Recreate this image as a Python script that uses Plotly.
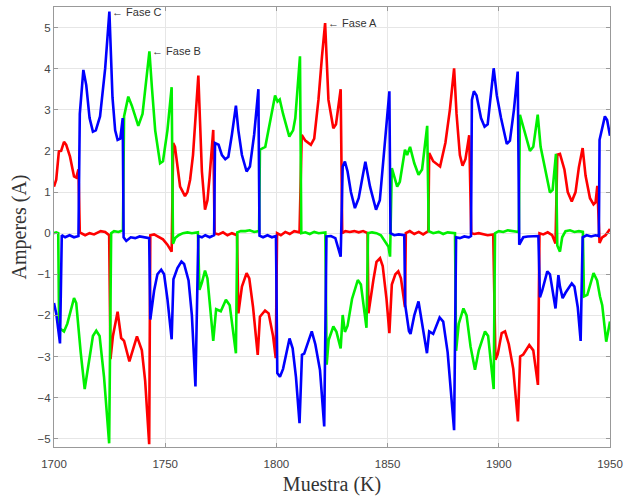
import plotly.graph_objects as go

# Fase A (red)
xa = [1700, 1701, 1702.2, 1703.2, 1704.5, 1705.5, 1707.2, 1709, 1710, 1711, 1711.6,
      1714, 1716, 1718, 1721, 1723, 1724.8,
      1725.4, 1726.5, 1728.6, 1730.2, 1731.5, 1733.9, 1737.3, 1739.5, 1741, 1742.8,
      1743.3, 1745, 1747, 1749, 1751, 1752.9,
      1753.6, 1754.4, 1756.7, 1758.9, 1760, 1761.2, 1762.5, 1764.9, 1765.6, 1766.5, 1767.9, 1769, 1770, 1771.6,
      1772.2, 1774, 1776, 1778, 1780, 1782.3,
      1782.9, 1784.5, 1786.6, 1787.8, 1789.5, 1791.6, 1792.6, 1794.9, 1796.5, 1798.5, 1799.7,
      1800.3, 1802, 1804, 1806, 1808, 1810.4,
      1811.4, 1813, 1815.5, 1817, 1818.9, 1820.5, 1821.9, 1823.4, 1825.6, 1826.8, 1828.9,
      1829.6, 1831, 1833, 1835, 1837, 1839, 1841,
      1841.4, 1843.6, 1845, 1846.6, 1847.8, 1849.5, 1850.8, 1851.9, 1853.5, 1854.8, 1856, 1857.8,
      1858.2, 1860, 1862, 1864, 1866, 1868.3,
      1868.7, 1870.5, 1873.6, 1876, 1878, 1879.9, 1881, 1882.5, 1883.7, 1885, 1886.7,
      1887.6, 1889, 1891, 1893, 1895, 1897.5,
      1898.5, 1899.5, 1901.3, 1902.8, 1904.5, 1906.5, 1908.6, 1909.6, 1911, 1913.7, 1915.5, 1917.6,
      1918.3, 1920, 1922, 1924, 1925.5,
      1926.3, 1927.5, 1929.5, 1931, 1932.8, 1934.5, 1936, 1937.7, 1939, 1941, 1942.6, 1943.5, 1944.3,
      1945.3, 1946.5, 1948, 1950]
ya = [1.13, 1.3, 1.99, 2.0, 2.22, 2.15, 1.86, 1.38, 1.35, 1.55, 0.02,
      -0.05, 0.0, -0.03, 0.05, 0.03, -0.05,
      -3.06, -2.5, -1.91, -2.55, -2.62, -3.12, -2.51, -2.85, -3.6, -5.13,
      -0.05, -0.03, -0.08, -0.15, -0.28, -0.45,
      2.19, 2.1, 1.13, 0.9, 1.0, 1.3, 1.9, 3.83, 2.8, 1.5, 0.57, 0.8, 1.4, 2.51,
      0.0, -0.03, 0.02, -0.05, 0.0, -0.05,
      -1.95, -1.3, -0.97, -1.1, -1.8, -2.96, -2.03, -1.88, -1.95, -2.5, -3.04,
      0.0, -0.05, 0.03, -0.02, 0.05, 0.02,
      2.39, 2.25, 2.15, 2.3, 3.24, 4.3, 5.11, 3.24, 2.55, 2.65, 3.5,
      0.0, 0.05, 0.03, 0.05, 0.02, 0.05, 0.0,
      -1.95, -1.14, -0.7, -0.61, -0.8, -1.6, -2.43, -1.25, -1.0, -0.93, -1.1, -1.8,
      0.0, 0.05, -0.02, 0.03, -0.03, 0.05,
      1.95, 1.75, 1.62, 2.2, 3.0, 4.01, 2.9, 1.9, 1.64, 1.8, 2.38,
      0.0, -0.02, 0.0, -0.03, -0.05, -0.03,
      -3.08, -2.95, -2.43, -2.39, -2.7, -3.3, -4.58, -3.0, -2.95, -2.72, -2.85, -3.69,
      0.0, -0.03, 0.02, -0.05, -0.25,
      1.91, 1.93, 1.55, 1.0, 0.77, 1.0, 1.6, 2.07, 1.4, 0.85, 0.7, 0.75, 1.15,
      -0.24, -0.1, -0.05, 0.1]

# Fase B (green)
xb = [1700, 1701, 1701.9,
      1702.3, 1704.5, 1706, 1709, 1710, 1712, 1713.8, 1715.5, 1717.5, 1719, 1720.5, 1722.5, 1724.8,
      1725.7, 1727, 1729, 1731,
      1731.5, 1733.4, 1735, 1737.9, 1739.8, 1741, 1742.9, 1744, 1745.5, 1747.7, 1749, 1751, 1752.9,
      1753.5, 1754.5, 1756, 1758, 1760, 1762, 1764.7,
      1765.4, 1766.5, 1767.9, 1769, 1771.6, 1772.9, 1775, 1777.3, 1779, 1781.8,
      1782.4, 1784, 1786, 1788, 1790, 1792.2,
      1792.6, 1795, 1797.5, 1799.4, 1800.5, 1801.5, 1803, 1805.8, 1807.5, 1808.5, 1810.6,
      1811.2, 1813, 1815, 1817, 1819, 1822,
      1822.6, 1823.5, 1825.6, 1827, 1828.9, 1829.8, 1830.8, 1832, 1834, 1836.6, 1838, 1840.5,
      1841.2, 1843, 1845, 1847, 1849, 1850.4, 1851.1,
      1851.9, 1854.3, 1855.5, 1857.8, 1858.8, 1860.1, 1862, 1863.9, 1865.5, 1867.8,
      1868.5, 1870.5, 1873, 1875, 1877, 1880.3,
      1880.8, 1882, 1884.1, 1885.5, 1887.3, 1889.3, 1891, 1893.8, 1895.2, 1897.7,
      1898.3, 1900, 1902, 1904, 1906, 1909,
      1909.5, 1911, 1914, 1915.5, 1917.5, 1918.8, 1920.8, 1923, 1924.2, 1925.7,
      1926.3, 1927.5, 1928.5, 1930, 1932, 1934, 1936, 1937.8,
      1938.3, 1939.8, 1942.6, 1944.2, 1945.5, 1946.5, 1948.3, 1950]
yb = [0.0, 0.02, 0.0,
      -2.3, -2.39, -2.2, -1.58, -1.7, -2.9, -3.79, -3.2, -2.5, -2.37, -2.5, -3.5, -5.11,
      0.0, 0.05, 0.03, 0.07,
      2.84, 3.32, 3.1, 2.61, 2.9, 3.5, 4.42, 3.56, 2.5, 1.7, 1.75, 2.5, 3.55,
      -0.26, -0.12, -0.05, 0.0, 0.02, 0.0, 0.02,
      -1.38, -1.2, -0.91, -1.1, -2.62, -1.85, -1.9, -1.62, -1.75, -2.92,
      0.02, 0.05, 0.05, 0.07, 0.03, 0.05,
      2.03, 2.1, 2.8, 3.35, 3.2, 3.25, 2.9, 2.35, 2.5, 2.8, 4.3,
      0.0, 0.02, -0.02, 0.03, 0.0, 0.02,
      -3.2, -2.6, -2.27, -2.4, -2.8, -1.99, -2.4, -2.25, -1.6, -1.14, -1.25, -2.3,
      0.0, 0.02, 0.0, -0.05, -0.2, -0.33, -0.57,
      1.58, 1.13, 1.25, 2.03, 1.9, 2.1, 1.7, 1.42, 1.55, 2.61,
      0.05, 0.0, 0.03, -0.02, 0.02, 0.0,
      -2.86, -2.2, -1.83, -2.0, -2.76, -3.32, -2.85, -2.39, -2.5, -3.79,
      0.0, 0.05, 0.03, 0.07, 0.05, 0.03,
      2.88, 2.6, 2.0, 2.1, 2.88, 2.1, 1.54, 0.99, 1.05, 1.93,
      -0.3, -0.45, -0.1, 0.05, 0.07, 0.03, 0.05, 0.03,
      -1.54, -1.5, -0.97, -1.15, -1.54, -1.75, -2.64, -2.15]

# Fase C (blue)
xc = [1700, 1701, 1702.7,
      1703.5, 1705, 1707, 1709, 1711,
      1711.6, 1713.2, 1714.5, 1716, 1717.5, 1718.8, 1720.7, 1723, 1724.9, 1726.3, 1727.5, 1728.6, 1729.8, 1730.9,
      1731.3, 1732.5, 1734.5, 1736.5, 1738.5, 1740.5, 1742.8,
      1743.3, 1745, 1746.5, 1748.2, 1749.5, 1751, 1752.9, 1753.7, 1755.5, 1757.3, 1758.5, 1760.5, 1762, 1763.6,
      1764.9, 1766.5, 1768, 1770, 1772,
      1772.4, 1774, 1775.5, 1777, 1778.4, 1780, 1781.8, 1782.9, 1784.5, 1786.6, 1788.1, 1790, 1791.9,
      1792.4, 1794, 1796, 1798, 1799.8,
      1800.4, 1801.6, 1803, 1805.9, 1807.3, 1808.8, 1810.4, 1811.5, 1812.5, 1815.9, 1817.5, 1819.6, 1821.5,
      1822.5, 1824.5, 1826.5, 1828.9,
      1829.8, 1830.8, 1832, 1833.5, 1835.3, 1837, 1838.5, 1840, 1842.1, 1844.8, 1846.5, 1848.5, 1850.8,
      1851.3, 1853, 1855, 1857.5,
      1857.9, 1859.6, 1860.3, 1862, 1863.9, 1866, 1867.7, 1868.7, 1870.5, 1873.4, 1875, 1877, 1879.9,
      1880.8, 1882.5, 1884.5, 1886.5, 1887.5,
      1887.9, 1888.8, 1890, 1892, 1893.6, 1895, 1896.5, 1897.7, 1899.1, 1901, 1903.6, 1905, 1906.8, 1908.5,
      1909.2, 1911, 1913, 1915, 1917.8,
      1918.5, 1919.5, 1921.8, 1923, 1925.5, 1926.8, 1927.5, 1928.7, 1930, 1932.8, 1934, 1935.5, 1936.8,
      1937.7, 1939.5, 1941.5, 1943.5, 1945,
      1945.3, 1946.3, 1947.7, 1948.7, 1950]
yc = [-1.70, -1.95, -2.68,
      -0.05, -0.1, -0.05, -0.1, -0.07,
      2.9, 3.97, 3.6, 2.8, 2.47, 2.5, 2.84, 4.0, 5.39, 3.3, 2.5, 2.27, 2.3, 2.8,
      -0.1, -0.19, -0.1, -0.12, -0.08, -0.1, -0.12,
      -2.1, -1.4, -1.0, -0.89, -1.0, -1.6, -2.58, -1.12, -0.85, -0.69, -0.75, -1.15, -2.0, -3.73,
      -0.07, -0.1, -0.05, -0.1, -0.05,
      2.19, 2.15, 1.9, 1.8, 1.86, 2.4, 3.1, 2.5, 1.9, 1.5, 1.62, 2.4, 3.5,
      -0.06, -0.1, -0.05, -0.1, -0.07,
      -3.4, -3.49, -3.3, -2.56, -2.8, -3.5, -4.62, -2.96, -2.93, -2.39, -2.7, -3.33, -4.70,
      -0.08, -0.07, -0.12, -0.57,
      1.62, 1.74, 1.5, 1.0, 0.61, 0.85, 1.3, 1.74, 1.13, 0.57, 0.8, 2.0, 3.45,
      0.0, -0.05, -0.03, -0.05,
      -1.74, -2.38, -2.45, -2.0, -1.66, -2.3, -2.92, -2.39, -2.45, -2.05, -2.15, -2.9, -4.79,
      -0.1, -0.12, -0.08, -0.1, -0.07,
      3.24, 3.45, 3.35, 2.8, 2.59, 2.65, 3.5, 4.01, 3.35, 2.8, 2.17, 2.25, 3.0, 3.93,
      -0.28, -0.1, -0.08, -0.07, -0.07,
      -1.56, -1.4, -0.93, -1.0, -1.83, -1.02, -1.3, -1.58, -1.45, -1.22, -1.3, -1.8, -2.62,
      -0.1, -0.05, -0.08, -0.05, -0.07,
      2.27, 2.5, 2.84, 2.75, 2.37]

x_ticks = [1700, 1750, 1800, 1850, 1900, 1950]
y_ticks = [-5, -4, -3, -2, -1, 0, 1, 2, 3, 4, 5]

labels = ["Fase C", "Fase B", "Fase A"]
label_x = [1724.9, 1742.9, 1821.9]
label_y = [5.39, 4.42, 5.11]

fig = go.Figure()
lw = 2.6
fig.add_trace(go.Scatter(x=xa, y=ya, mode="lines", line=dict(color="#ff0000", width=lw), name="Fase A"))
fig.add_trace(go.Scatter(x=xb, y=yb, mode="lines", line=dict(color="#00f000", width=lw), name="Fase B"))
fig.add_trace(go.Scatter(x=xc, y=yc, mode="lines", line=dict(color="#0000ff", width=lw), name="Fase C"))

for t, lx, ly in zip(labels, label_x, label_y):
    fig.add_annotation(x=lx, y=ly, text="\u2190 " + t, showarrow=False,
                       xanchor="left", yanchor="middle", xshift=1,
                       font=dict(family="Liberation Sans, Arial", size=11, color="#333333"))

axis_common = dict(showgrid=True, gridcolor="#e6e6e6", gridwidth=1, automargin=False,
                   showline=True, linecolor="#999999", linewidth=1, mirror="ticks",
                   ticks="inside", ticklen=4, tickcolor="#999999", zeroline=False,
                   tickfont=dict(family="Liberation Sans, Arial", size=11.5, color="#444444"))

fig.update_xaxes(range=[1700, 1950], tickvals=x_ticks, ticklabelstandoff=6,
                 title=dict(text="Muestra (K)", standoff=10,
                            font=dict(family="Liberation Serif, Times New Roman", size=20, color="#333333")),
                 **axis_common)
fig.update_yaxes(range=[-5.2, 5.5], tickvals=y_ticks,
                 title=dict(text="Amperes (A)", standoff=5,
                            font=dict(family="Liberation Serif, Times New Roman", size=20, color="#333333")),
                 **axis_common)

fig.update_layout(width=624, height=496, margin=dict(l=54, r=14, t=7, b=49),
                  plot_bgcolor="white", paper_bgcolor="white", showlegend=False)

fig.write_html("out.html", config={"displayModeBar": False},
               post_script="document.body.style.margin='0';document.body.style.overflow='hidden';")
